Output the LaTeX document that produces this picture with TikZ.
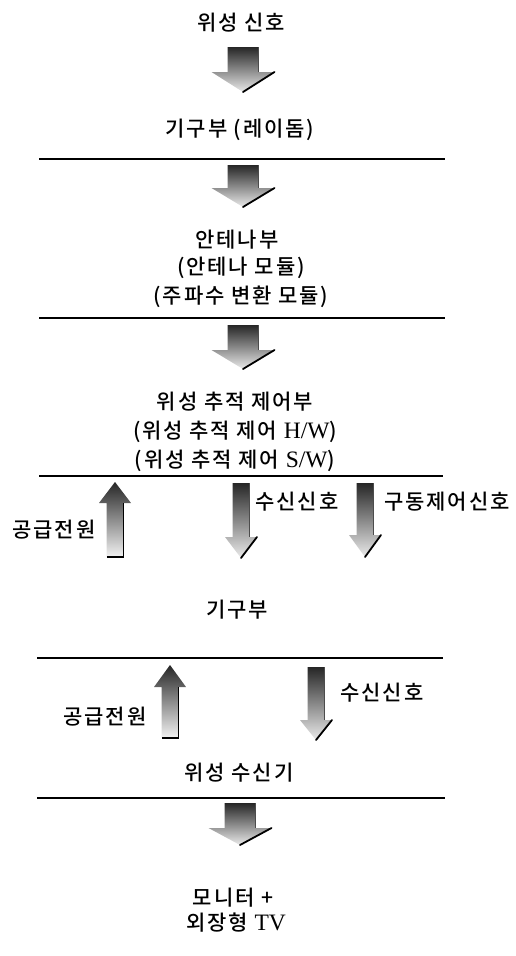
\documentclass[tikz,border=0pt]{standalone}
\usepackage{fontspec}
\setmainfont{Noto Sans CJK KR Medium}[LetterSpace=9]
\newfontfamily\lserif{Liberation Serif}[Scale=1.12]
\newcommand\fatdn[6]{% cx, shaft top, head base, tip, shaft half width, head half width
  \shade[top color=black!85, bottom color=black!8]
    (#1-#5,#2) -- (#1+#5,#2) -- (#1+#5,#3) -- (#1+#6,#3) -- (#1,#4) -- (#1-#6,#3) -- (#1-#5,#3) -- cycle;
  \draw[line width=0.8pt, black!70] (#1+#5,#2) -- (#1+#5,#3);
  \draw[line width=1.8pt, line cap=round] (#1+#6,#3) -- (#1,#4);
}
\newcommand\fatup[6]{% cx, tip, head base, bottom, shaft half width, head half width
  \shade[top color=black!85, bottom color=black!5]
    (#1,#2) -- (#1+#6,#3) -- (#1+#5,#3) -- (#1+#5,#4) -- (#1-#5,#4) -- (#1-#5,#3) -- (#1-#6,#3) -- cycle;
  \draw[line width=1.8pt, line join=miter] (#1+#5,#3) -- (#1+#5,#4) -- (#1-#5,#4);
}
\begin{document}
\begin{tikzpicture}[x=1pt,y=-1pt,
  lbl/.style={font=\fontsize{21}{24}\selectfont, inner sep=0pt},
  sepline/.style={line width=1.8pt}]
\useasboundingbox (0,0) rectangle (516,956);

% texts
\node[lbl] (sig) at (241,23) {위성 신호};
\node[lbl] (radome) at (240,130) {기구부 (레이돔)};
\node[lbl] (ant1) at (237,240) {안테나부};
\node[lbl] (ant2) at (241,268) {(안테나 모듈)};
\node[lbl] (ant3) at (241,297) {(주파수 변환 모듈)};
\node[lbl] (trk1) at (235,402) {위성 추적 제어부};
\node[lbl] (trk2) at (235,432) {(위성 추적 제어 {\lserif H/W})};
\node[lbl] (trk3) at (235,461) {(위성 추적 제어 {\lserif S/W})};
\node[lbl] (pw1) at (54,530) {공급전원};
\node[lbl] (rx1) at (297,502) {수신신호};
\node[lbl] (drv) at (447,502) {구동제어신호};
\node[lbl] (mech) at (237,610) {기구부};
\node[lbl] (pw2) at (105,717) {공급전원};
\node[lbl] (rx2) at (382,693) {수신신호};
\node[lbl] (recv) at (239,773) {위성 수신기};
\node[lbl] (mon1) at (233,898) {모니터 +};
\node[lbl] (mon2) at (236,923) {외장형 {\lserif TV}};

% separator lines
\coordinate (l1a) at (39,159); \coordinate (l1b) at (445,159);
\coordinate (l2a) at (39,318); \coordinate (l2b) at (445,318);
\coordinate (l3a) at (39,476); \coordinate (l3b) at (443,476);
\coordinate (l4a) at (37,658); \coordinate (l4b) at (443,658);
\coordinate (l5a) at (37,798); \coordinate (l5b) at (445,798);
\draw[sepline] (l1a) -- (l1b);
\draw[sepline] (l2a) -- (l2b);
\draw[sepline] (l3a) -- (l3b);
\draw[sepline] (l4a) -- (l4b);
\draw[sepline] (l5a) -- (l5b);

% big block arrows
\fatdn{243}{47}{72}{92}{15.5}{31.5}
\fatdn{243}{165}{188}{207}{15.5}{31.5}
\fatdn{243}{325}{350}{369}{15.5}{31.5}
\fatdn{240}{803}{828}{845}{15.5}{31.5}

% side arrows
\fatup{115}{482}{503}{557}{8.5}{16}
\fatdn{241}{483}{537}{558}{8.5}{16}
\fatdn{365}{483}{535}{557}{8.5}{16}
\fatup{170}{665}{687}{738}{8.5}{16}
\fatdn{316}{667}{720}{740}{8.5}{16}
\end{tikzpicture}
\end{document}
